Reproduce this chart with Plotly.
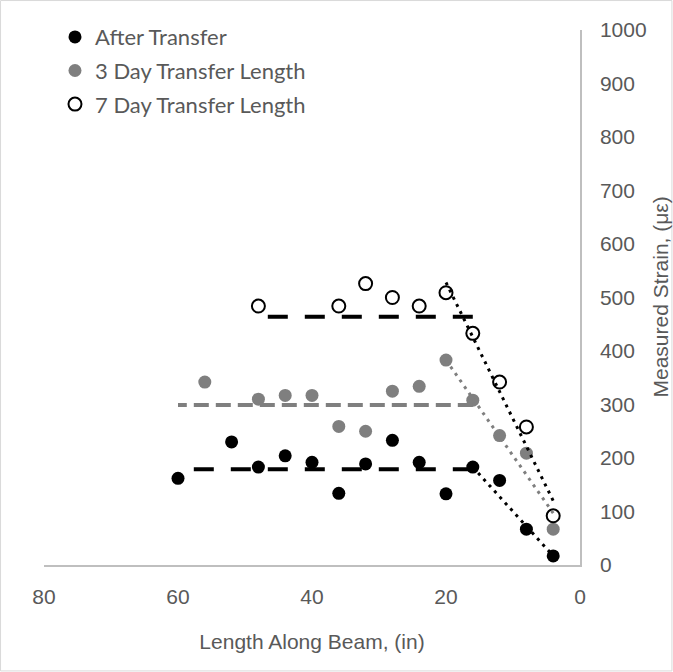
import plotly.graph_objects as go

# ---- data ----
x_pos = [60, 52, 48, 44, 40, 36, 32, 28, 24, 20, 16, 12, 8, 4]
after_transfer = [162, 230, 183, 204, 192, 134, 189, 233, 192, 133, 183, 158, 67, 17]

x_pos_3day = [56, 48, 44, 40, 36, 32, 28, 24, 20, 16, 12, 8, 4]
day3 = [342, 310, 317, 317, 259, 250, 325, 334, 383, 308, 242, 209, 67]

x_pos_7day = [48, 36, 32, 28, 24, 20, 16, 12, 8, 4]
day7 = [484, 484, 526, 500, 484, 509, 433, 342, 258, 92]

# plateau (average strain) lines
plateau_after_x = [16, 60]
plateau_after_y = [179, 179]
plateau_3day_x = [16, 60]
plateau_3day_y = [299, 299]
plateau_7day_x = [16, 48]
plateau_7day_y = [464, 464]

# transfer-zone trend lines
trend_after_x = [16, 4]
trend_after_y = [183, 17]
trend_3day_x = [20, 4]
trend_3day_y = [383, 97]
trend_7day_x = [20, 4]
trend_7day_y = [528, 120]

x_ticks = [0, 20, 40, 60, 80]
y_ticks = [0, 100, 200, 300, 400, 500, 600, 700, 800, 900, 1000]

BLACK = "#000000"
GRAY = "#7f7f7f"
TXT = "#595959"
AXFONT = "Liberation Sans"

fig = go.Figure()

fig.add_trace(go.Scatter(x=x_pos, y=after_transfer, mode="markers", name="After Transfer",
                         legendgroup="a", marker=dict(color=BLACK, size=13)))
fig.add_trace(go.Scatter(x=x_pos_3day, y=day3, mode="markers", name="3 Day Transfer Length",
                         legendgroup="b", marker=dict(color=GRAY, size=13)))
fig.add_trace(go.Scatter(x=x_pos_7day, y=day7, mode="markers", name="7 Day Transfer Length",
                         legendgroup="c",
                         marker=dict(color=BLACK, size=13, symbol="circle-open", line=dict(width=2))))

fig.add_trace(go.Scatter(x=plateau_after_x, y=plateau_after_y, mode="lines", showlegend=False,
                         line=dict(color=BLACK, width=4, dash="20px,17px")))
fig.add_trace(go.Scatter(x=plateau_3day_x, y=plateau_3day_y, mode="lines", showlegend=False,
                         line=dict(color=GRAY, width=4, dash="15px,7px")))
fig.add_trace(go.Scatter(x=plateau_7day_x, y=plateau_7day_y, mode="lines", showlegend=False,
                         line=dict(color=BLACK, width=4, dash="20px,17px")))

fig.add_trace(go.Scatter(x=trend_after_x, y=trend_after_y, mode="lines", showlegend=False,
                         line=dict(color=BLACK, width=3, dash="3px,5px")))
fig.add_trace(go.Scatter(x=trend_3day_x, y=trend_3day_y, mode="lines", showlegend=False,
                         line=dict(color=GRAY, width=3, dash="3px,5px")))
fig.add_trace(go.Scatter(x=trend_7day_x, y=trend_7day_y, mode="lines", showlegend=False,
                         line=dict(color=BLACK, width=3, dash="3px,5px")))

L, R, T, B = 44, 93, 30, 107
PW, PH = 673 - L - R, 672 - T - B

fig.update_layout(
    width=673, height=672,
    margin=dict(l=L, r=R, t=T, b=B),
    paper_bgcolor="white", plot_bgcolor="white",
    font=dict(family=AXFONT, size=21, color=TXT),
    showlegend=True,
    legend=dict(x=0.0205, y=1.026, xanchor="left", yanchor="top",
                font=dict(family="Lato", size=22, color=TXT),
                traceorder="grouped", tracegroupgap=2,
                bgcolor="rgba(0,0,0,0)", itemwidth=30),
    xaxis=dict(range=[80, 0], tickvals=x_ticks, showgrid=False, zeroline=False,
               showline=True, linecolor="#bfbfbf", linewidth=1.5,
               ticks="outside", ticklen=12, tickcolor="rgba(0,0,0,0)",
               tickfont=dict(family=AXFONT, size=21, color=TXT),
               title=dict(text="Length Along Beam, (in)",
                          font=dict(family=AXFONT, size=21, color=TXT), standoff=27)),
    yaxis=dict(range=[0, 1000], tickvals=y_ticks, side="right", showgrid=False, zeroline=False,
               showline=True, linecolor="#bfbfbf", linewidth=1.5,
               ticks="outside", ticklen=14, tickcolor="rgba(0,0,0,0)",
               tickfont=dict(family=AXFONT, size=21, color=TXT)),
    annotations=[dict(text="Measured Strain, (με)", textangle=-90, showarrow=False,
                      xref="paper", yref="paper", x=1 + (660 - 580) / PW, y=0.5,
                      xanchor="center", yanchor="middle",
                      font=dict(family=AXFONT, size=21, color=TXT))],
    shapes=[dict(type="rect", xref="paper", yref="paper",
                 x0=-L / PW + 0.001, x1=1 + R / PW - 0.002,
                 y0=-B / PH + 0.002, y1=1 + T / PH - 0.001,
                 line=dict(color="#d9d9d9", width=1), fillcolor="rgba(0,0,0,0)", layer="below")],
)

fig.write_html("out.html", config={"displayModeBar": False},
               post_script="document.body.style.margin='0px';")
